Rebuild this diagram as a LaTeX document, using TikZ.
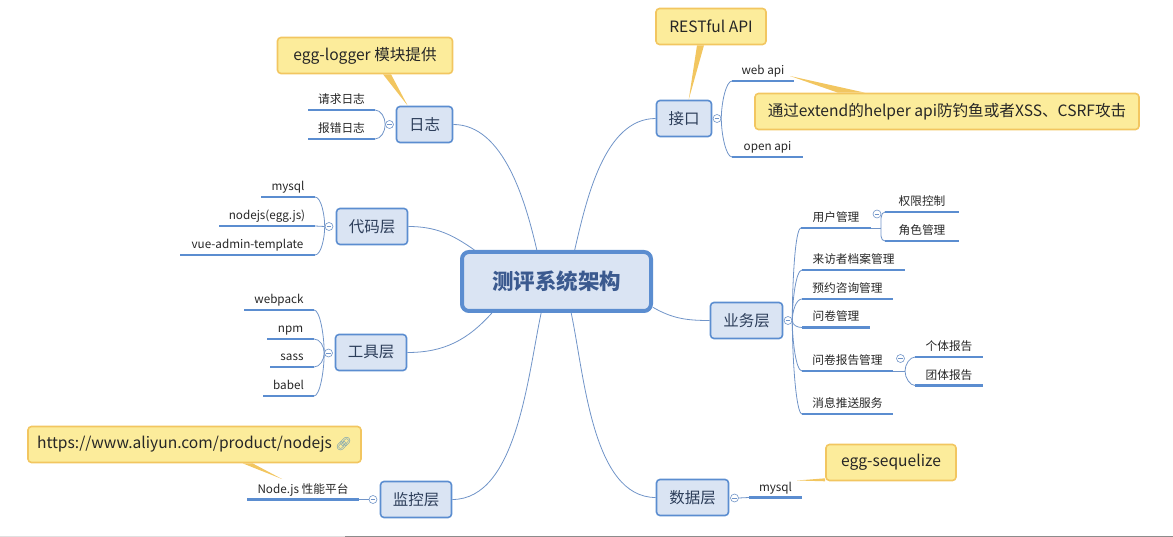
\documentclass[tikz,border=0pt]{standalone}
\usepackage{fontspec}
\setmainfont{Noto Sans CJK SC}
\newfontfamily\emojifont{Noto Emoji}
\definecolor{figBlue}{RGB}{91,141,208}
\definecolor{figFill}{RGB}{218,228,243}
\definecolor{figText}{RGB}{45,62,90}
\definecolor{figRoot}{RGB}{59,90,143}
\definecolor{figWire}{RGB}{112,148,200}
\definecolor{figNote}{RGB}{252,236,155}
\definecolor{figEdge}{RGB}{242,198,96}
\definecolor{figLink}{RGB}{90,145,185}
\tikzset{
  rootbox/.style={draw=figBlue,fill=figFill,line width=4pt,rounded corners=7pt,minimum width=189pt,minimum height=59pt,inner sep=0pt,text=figRoot,font=\fontsize{21.5}{24}\selectfont\bfseries},
  topic/.style={draw=figBlue,fill=figFill,line width=1.6pt,rounded corners=3.5pt,minimum height=36pt,inner sep=0pt,text=figText,font=\fontsize{15.5}{18}\selectfont},
  leaf/.style={anchor=south,inner xsep=0pt,inner ysep=6.5pt,outer sep=0pt,text depth=0pt,text=black!85,font=\fontsize{11.7}{14}\selectfont},
  leafline/.style={figBlue,line width=2.2pt},
  notebox/.style={draw=figEdge,fill=figNote,line width=1.6pt,rounded corners=3.5pt,minimum height=36pt,inner sep=0pt,text=black!85,font=\fontsize{15.6}{18}\selectfont},
  notetip/.style={fill=figEdge},
  collapse/.style={circle,draw=figWire,fill=white,line width=.6pt,minimum size=8pt,inner sep=0pt},
  wire/.style={figWire,line width=.8pt},
}
\begin{document}
\begin{tikzpicture}[x=1pt,y=1pt]
\useasboundingbox (0,0) rectangle (1173,-537);
\fill[black!12] (0,-535.5) rectangle (1173,-537);
\fill[black!45] (345,-536) rectangle (1173,-537);
\node[rootbox] (root) at (556.5,-281.5) {测评系统架构};
\foreach \name/\xx/\yy/\ww/\txt in {
  tlog/424.5/-124.5/56/日志,
  tcode/372/-226.5/71/代码层,
  ttool/371/-352.5/71/工具层,
  tmon/416/-499.5/71/监控层,
  tapi/684/-118.5/55/接口,
  tbiz/746.5/-320.5/72/业务层,
  tdata/692.5/-497.5/72/数据层} {
  \node[topic,minimum width=\ww pt] (\name) at (\xx,\yy) {\txt};
}
\foreach \name/\xa/\xb/\yy/\txt in {
  lreq/308/375/-110/请求日志,
  lerr/308/375/-139/报错日志,
  lmysql/261/315/-197/mysql,
  lnode/219/315/-226/nodejs(egg.js),
  lvue/180/315/-255/vue-admin-template,
  lpack/244/314/-310/webpack,
  lnpm/267/314/-339/npm,
  lsass/270/314/-367/sass,
  lbabel/263/314/-396/babel,
  lperf/247/359/-499.5/Node.js 性能平台,
  lweb/732/794/-81/web api,
  lopen/732/803/-157/open api,
  luser/801/871/-228/用户管理,
  lperm/885/959/-212/权限控制,
  lrole/885/959/-241/角色管理,
  lfile/802/905/-270/来访者档案管理,
  lbook/802/893/-299/预约咨询管理,
  lform/802/870/-327.5/问卷管理,
  lrep/802/893/-371/问卷报告管理,
  lone/915/983/-357/个体报告,
  lgrp/915/983/-385.5/团体报告,
  lmsg/802/893/-414/消息推送服务,
  lsql/749/802/-497.5/mysql} {
  \node[leaf,minimum width={(\xb-\xa)*1pt}] (\name) at ({(\xa+\xb)/2},\yy) {\txt};
  \draw[leafline] (\name.south west)--(\name.south east);
}
\coordinate (juser) at (881,-228);
\coordinate (jrep) at (905,-371);
\draw[wire] (tlog.east) to[out=0,in=103,looseness=.85] (root.122);
\draw[wire] (tcode.east) to[out=0,in=145] (root.159);
\draw[wire] (ttool.east) to[out=0,in=228] (root.206);
\draw[wire] (tmon.east) to[out=0,in=258,looseness=.8] (root.244);
\draw[wire] (tapi.west) to[out=180,in=77,looseness=.85] (root.60);
\draw[wire] (tbiz.west) to[out=180,in=-30] (root.345.5);
\draw[wire] (tdata.west) to[out=180,in=282,looseness=.8] (root.295);
\foreach \name/\xx/\yy in {
  clog/389.5/-124.5,ccode/329/-226.5,ctool/328.5/-353,cmon/373/-499.5,
  capi/717/-118.5,cbiz/788/-320.5,cdata/734.5/-498,cuser/877/-214,crep/900.5/-358.5} {
  \node[collapse] (\name) at (\xx,\yy) {};
  \draw[wire,line width=.5pt] ([xshift=2pt]\name.west)--([xshift=-2pt]\name.east);
}
\foreach \c/\l/\o in {clog/lreq/90,clog/lerr/-90,ccode/lmysql/90,ccode/lvue/-90,
  ctool/lpack/90,ctool/lnpm/90,ctool/lsass/-90,ctool/lbabel/-90} {
  \draw[wire] (\c.west) to[out=\o,in=0,in max distance=6pt] (\l.south east);
}
\draw[wire] (ccode.west)--(lnode.south east);
\draw[wire] (cmon.west)--(lperf.south east);
\foreach \c/\l/\o in {capi/lweb/90,capi/lopen/-90,cbiz/luser/90,cbiz/lfile/90,cbiz/lbook/90,
  cbiz/lform/-90,cbiz/lrep/-90,cbiz/lmsg/-90} {
  \draw[wire] (\c.east) to[out=\o,in=180,in max distance=6pt] (\l.south west);
}
\foreach \c/\l/\o in {juser/lperm/90,juser/lrole/-90,jrep/lone/90,jrep/lgrp/-90} {
  \draw[wire] (\c) to[out=\o,in=180,in max distance=5pt] (\l.south west);
}
\draw[wire] (cdata.east)--(lsql.south west);
\draw[wire] (luser.south east)--(juser);
\draw[wire] (lrep.south east)--(jrep);
\foreach \name/\xx/\yy/\ww/\txt in {
  nlog/365/-55.5/175/egg-logger 模块提供,
  nrest/711/-26.5/110/RESTful API,
  nweb/947/-111.5/384/通过extend的helper api防钓鱼或者XSS、CSRF攻击,
  nsql/891/-462.5/130/egg-sequelize} {
  \node[notebox,minimum width=\ww pt] (\name) at (\xx,\yy) {\txt};
}
\node[notebox,minimum width=333pt] (nperf) at (194.5,-444.5) {https://www.aliyun.com/product/nodejs {\emojifont\color{figLink}\fontsize{13}{14}\selectfont 🔗}};
\fill[notetip] ([xshift=18pt]nlog.south)--([xshift=26pt]nlog.south)--([xshift=12pt]tlog.north west)--cycle;
\fill[notetip] ([xshift=-14pt]nrest.south)--([xshift=-7pt]nrest.south)--([xshift=33pt]tapi.north west)--cycle;
\fill[notetip] ([xshift=-109pt]nweb.north)--([xshift=-82pt]nweb.north)--([xshift=-4pt,yshift=5pt]lweb.south east)--cycle;
\fill[notetip] ([xshift=48pt]nperf.south)--([xshift=58pt]nperf.south)--([xshift=35pt,yshift=20.5pt]lperf.south west)--cycle;
\fill[notetip] ([yshift=3pt]nsql.south west)--(nsql.south west)--([xshift=-5pt,yshift=17pt]lsql.south east)--cycle;
\end{tikzpicture}
\end{document}
